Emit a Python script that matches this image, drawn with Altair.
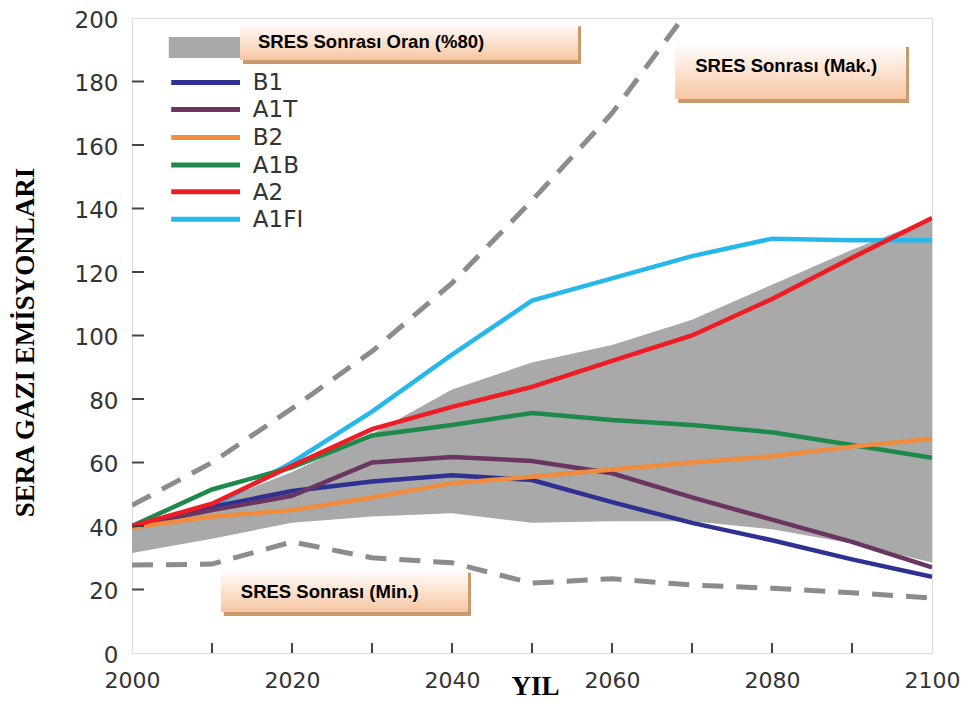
import altair as alt
import pandas as pd

# ---------------- data ----------------
years = [2000, 2010, 2020, 2030, 2040, 2050, 2060, 2070, 2080, 2090, 2100]

series_names = ["B1", "A1T", "B2", "A1B", "A2", "A1FI"]
series_colors = ["#2E3192", "#6B3562", "#F08C3C", "#1D8A4C", "#EE1C25", "#27B8EA"]

b1 = [40, 46, 51, 54, 56, 54.5, 47.5, 41, 35.5, 29.5, 24]
a1t = [40, 45, 49.5, 60, 61.7, 60.5, 56.6, 49, 42, 35, 27]
b2 = [39.5, 43, 45, 49, 53.5, 55.5, 57.8, 60, 62, 65, 67.5]
a1b = [40, 51.5, 58.5, 68.5, 71.8, 75.6, 73.4, 71.8, 69.5, 65.5, 61.5]
a2 = [40, 47, 59, 70.5, 77.5, 83.8, 92, 100, 111.5, 124.5, 137]
a1fi = [40, 46, 60, 76, 94, 111, 118, 125, 130.5, 130, 130]
series_values = [b1, a1t, b2, a1b, a2, a1fi]

band_low = [31.5, 36, 41, 43, 44, 41, 41.5, 41.5, 39, 34.5, 28.5]
band_high = [40, 47, 57, 69, 83, 91.5, 97, 105, 116, 127, 137]

sres_max_years = [2000, 2010, 2020, 2030, 2040, 2050, 2060, 2070]
sres_max = [46.5, 60, 77, 95, 116.5, 142.5, 170, 204]
sres_min = [27.7, 28, 35, 30, 28.4, 22, 23.4, 21.4, 20.4, 19, 17.3]

x_tick_labels = [2000, 2020, 2040, 2060, 2080, 2100]
x_minor_ticks = [2010, 2020, 2030, 2040, 2050, 2060, 2070, 2080, 2090]
y_tick_labels = [0, 20, 40, 60, 80, 100, 120, 140, 160, 180, 200]
y_minor_ticks = [20, 40, 60, 80, 100, 120, 140, 160, 180]

band_label = "SRES Sonrası Oran (%80)"
max_label = "SRES Sonrası (Mak.)"
min_label = "SRES Sonrası (Min.)"
x_title = "YIL"
y_title = "SERA GAZI EMİSYONLARI"

# ---------------- tables ----------------
W, H = 800, 635

lines_df = pd.DataFrame(
    [
        {"series": n, "year": y, "value": v}
        for n, vals in zip(series_names, series_values)
        for y, v in zip(years, vals)
    ]
)
band_df = pd.DataFrame({"year": years, "low": band_low, "high": band_high})
max_df = pd.DataFrame({"year": sres_max_years, "value": sres_max})
min_df = pd.DataFrame({"year": years, "value": sres_min})
xt_df = pd.DataFrame({"year": x_minor_ticks})
yt_df = pd.DataFrame({"value": y_minor_ticks})

# annotation placement (in data units, drawn through the scales)
legend_df = pd.DataFrame(
    {
        "series": series_names,
        "lx0": [2004.9] * 6,
        "lx1": [2013.5] * 6,
        "tx": [2015.1] * 6,
        "ly": [179.7, 171.2, 162.4, 153.7, 145.3, 136.6],
    }
)
legend_band_df = pd.DataFrame({"x0": [2004.6], "x1": [2013.5], "y0": [187.4], "y1": [194.0]})

boxes_df = pd.DataFrame(
    {
        "label": [band_label, max_label, min_label],
        "x0": [2013.5, 2067.9, 2011.1],
        "x1": [2055.75, 2096.75, 2042.0],
        "y0": [186.8, 174.5, 12.9],
        "y1": [198.7, 192.1, 26.5],
        "tx": [2015.75, 2070.4, 2013.6],
        "ty": [190.6, 183.0, 17.3],
    }
)

# ---------------- scales / axes ----------------
xs = alt.Scale(domain=[2000, 2100], nice=False, zero=False)
ys = alt.Scale(domain=[0, 200], nice=False)

x_axis = alt.Axis(
    values=x_tick_labels,
    format="d",
    title=x_title,
    titleFont="Liberation Serif",
    titleFontSize=27,
    titleFontWeight="bold",
    titleColor="black",
    titleX=403,
    titleY=41,
    titleBaseline="alphabetic",
    labelFont="DejaVu Sans",
    labelFontSize=22,
    labelColor="#333333",
    labelPadding=17,
    labelFlush=False,
    labelOverlap=False,
    ticks=False,
    domain=False,
    grid=False,
)
y_axis = alt.Axis(
    values=y_tick_labels,
    title=y_title,
    titleFont="Liberation Serif",
    titleFontSize=27,
    titleFontWeight="bold",
    titleColor="black",
    titleX=-99,
    titleY=324,
    titleBaseline="alphabetic",
    titleAlign="center",
    labelFont="DejaVu Sans",
    labelFontSize=23,
    labelColor="#333333",
    labelPadding=14,
    labelOffset=2,
    labelOverlap=False,
    ticks=False,
    domain=False,
    grid=False,
)

X = lambda f: alt.X(f, type="quantitative", scale=xs, axis=x_axis)
Y = lambda f: alt.Y(f, type="quantitative", scale=ys, axis=y_axis)

color_scale = alt.Scale(domain=series_names, range=series_colors)

# ---------------- layers ----------------
band = alt.Chart(band_df).mark_area(color="#A9A9A9", opacity=1).encode(
    x=X("year"), y=Y("low"), y2="high"
)

dash_style = dict(color="#8C8C8C", strokeWidth=5, strokeDash=[21, 13], clip=True)
max_line = alt.Chart(max_df).mark_line(**dash_style).encode(x=X("year"), y=Y("value"))
min_line = alt.Chart(min_df).mark_line(**dash_style).encode(x=X("year"), y=Y("value"))

draw_order = ["A1FI", "A1B", "B1", "A1T", "B2", "A2"]
series_layers = [
    alt.Chart(lines_df[lines_df.series == n])
    .mark_line(strokeWidth=4.5, clip=True)
    .encode(
        x=X("year"),
        y=Y("value"),
        color=alt.Color("series:N", scale=color_scale, legend=None),
    )
    for n in draw_order
]

x_ticks = alt.Chart(xt_df).mark_rule(color="#444444", strokeWidth=2).encode(
    x=X("year"), y=alt.value(H), y2=alt.value(H - 10)
)
y_ticks = alt.Chart(yt_df).mark_rule(color="#444444", strokeWidth=2).encode(
    y=Y("value"), x=alt.value(0), x2=alt.value(12)
)

leg_band = alt.Chart(legend_band_df).mark_rect(color="#A9A9A9").encode(
    x=X("x0"), x2="x1", y=Y("y0"), y2="y1"
)
leg_lines = alt.Chart(legend_df).mark_rule(strokeWidth=5).encode(
    x=X("lx0"),
    x2="lx1",
    y=Y("ly"),
    color=alt.Color("series:N", scale=color_scale, legend=None),
)
leg_text = alt.Chart(legend_df).mark_text(
    align="left", baseline="middle", font="DejaVu Sans", fontSize=23, color="#333333", dy=1
).encode(x=X("tx"), y=Y("ly"), text="series:N")

gradient = alt.Gradient(
    gradient="linear",
    stops=[
        alt.GradientStop(color="#FFFFFF", offset=0),
        alt.GradientStop(color="#FCE6D6", offset=0.45),
        alt.GradientStop(color="#F6C6A2", offset=1),
    ],
    x1=0,
    x2=0,
    y1=0,
    y2=1,
)
box_shadow = alt.Chart(boxes_df).mark_rect(
    color="#C99A6C", xOffset=3, x2Offset=3, yOffset=4, y2Offset=4
).encode(x=X("x0"), x2="x1", y=Y("y0"), y2="y1")
box = alt.Chart(boxes_df).mark_rect(fill=gradient).encode(
    x=X("x0"), x2="x1", y=Y("y0"), y2="y1"
)
box_text = alt.Chart(boxes_df).mark_text(
    align="left",
    baseline="alphabetic",
    font="Liberation Sans",
    fontWeight="bold",
    fontSize=18.5,
    color="black",
).encode(x=X("tx"), y=Y("ty"), text="label:N")

chart = (
    alt.layer(
        band,
        max_line,
        min_line,
        *series_layers,
        x_ticks,
        y_ticks,
        leg_band,
        leg_lines,
        leg_text,
        box_shadow,
        box,
        box_text,
    )
    .properties(
        width=W,
        height=H,
        autosize=alt.AutoSizeParams(type="none"),
        padding={"left": 124, "top": 10, "right": 28, "bottom": 46},
    )
    .configure_view(fill="#FDF6DA", stroke="#444444", strokeWidth=2)
    .configure(background="white")
)

chart.save("out.html", embed_options={"renderer": "svg", "actions": False})
